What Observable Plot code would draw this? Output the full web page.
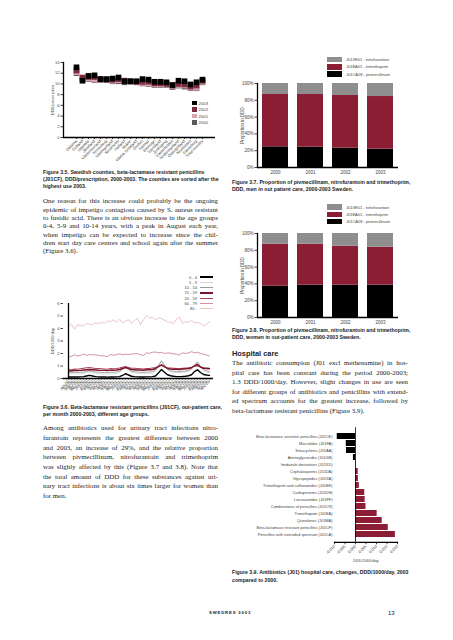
<!DOCTYPE html>
<html><head><meta charset="utf-8">
<script src="https://cdn.jsdelivr.net/npm/d3@7"></script>
<script src="https://cdn.jsdelivr.net/npm/@observablehq/plot@0.6"></script>
<style>
body{margin:0;background:#fff;}
#page{position:relative;width:453px;height:640px;overflow:hidden;background:#fff;}
.cap{font-family:"Liberation Sans",Arial,sans-serif;font-weight:bold;font-size:5.2px;color:#222;white-space:nowrap;}
.txt{font-family:"Liberation Serif","Times New Roman",serif;font-size:6.9px;color:#222;white-space:nowrap;text-align:justify;text-align-last:justify;}
.lg{font-family:"Liberation Sans",Arial,sans-serif;font-size:4px;color:#444;white-space:nowrap;line-height:5px;}
.hd{font-family:"Liberation Sans",Arial,sans-serif;font-weight:bold;font-size:7.4px;color:#222;white-space:nowrap;}
</style></head>
<body><div id="page"></div>
<script>
// ---------- DATA ----------
const counties = ["Dalarna","Gotland","Uppsala","Jämtland","Västernorrland","Kronoberg","Västmanland","Stockholm","Halland","Skåne","Västra Götaland","Örebro","Kalmar","Blekinge","Värmland","Jönköping","Västerbotten","Södermanland","Östergötland","Norrbotten","Gävleborg","Total country"];
const use2000 = [12.0,10.8,10.9,10.7,10.7,10.7,10.5,10.5,10.3,10.4,10.3,10.1,10.0,9.8,9.8,9.8,9.4,9.7,9.5,9.2,9.2,10.3];
const use2001 = [12.2,11.0,11.0,10.8,10.8,10.8,10.6,10.7,10.5,10.4,10.4,10.2,10.1,9.9,9.9,9.9,9.5,9.8,9.7,9.3,9.3,10.4];
const use2002 = [12.5,11.2,11.3,11.3,10.9,10.8,10.8,10.9,10.6,10.5,10.4,10.4,10.4,10.1,10.1,10.0,9.7,10.0,9.9,9.5,9.7,10.6];
const use2003 = [13.1,10.6,11.5,11.6,10.9,10.9,11.0,11.2,10.5,10.5,10.5,10.9,10.8,10.4,10.4,10.3,9.8,10.6,10.5,9.9,10.3,10.8];
const useYears = ["2000","2001","2002","2003"];
const useColors = ["#5a5a5a","#d9a5b0","#7b2b3b","#000000"];

const months = ["jan-00","feb-00","mar-00","apr-00","may-00","jun-00","jul-00","aug-00","sep-00","oct-00","nov-00","dec-00",
"jan-01","feb-01","mar-01","apr-01","may-01","jun-01","jul-01","aug-01","sep-01","oct-01","nov-01","dec-01",
"jan-02","feb-02","mar-02","apr-02","may-02","jun-02","jul-02","aug-02","sep-02","oct-02","nov-02","dec-02",
"jan-03","feb-03","mar-03","apr-03","may-03","jun-03","jul-03","aug-03","sep-03","oct-03","nov-03","dec-03"];
const age0_4 = [0.12,0.12,0.13,0.12,0.13,0.15,0.20,0.25,0.20,0.15,0.13,0.12, 0.12,0.11,0.12,0.12,0.13,0.15,0.25,0.38,0.28,0.18,0.15,0.13, 0.12,0.12,0.13,0.13,0.15,0.20,0.45,0.72,0.50,0.30,0.22,0.18, 0.15,0.15,0.16,0.18,0.22,0.30,0.55,0.70,0.48,0.32,0.28,0.25];
const age5_9 = [0.35,0.35,0.38,0.36,0.38,0.42,0.48,0.55,0.48,0.40,0.38,0.36, 0.36,0.35,0.38,0.38,0.40,0.48,0.70,0.88,0.68,0.50,0.45,0.42, 0.40,0.40,0.42,0.42,0.45,0.60,1.05,1.45,1.05,0.70,0.55,0.50, 0.48,0.48,0.50,0.52,0.58,0.72,1.10,1.35,0.95,0.65,0.55,0.50];
const age10_14 = [0.48,0.47,0.50,0.48,0.50,0.52,0.58,0.62,0.56,0.52,0.50,0.48, 0.48,0.47,0.50,0.50,0.52,0.58,0.75,0.92,0.75,0.58,0.55,0.52, 0.50,0.50,0.52,0.52,0.55,0.68,1.05,1.40,1.05,0.75,0.62,0.58, 0.56,0.55,0.58,0.60,0.65,0.78,1.08,1.30,0.95,0.70,0.62,0.55];
const age15_19 = [0.62,0.60,0.65,0.63,0.65,0.68,0.70,0.72,0.70,0.68,0.66,0.65, 0.65,0.63,0.67,0.66,0.68,0.72,0.80,0.88,0.80,0.72,0.70,0.68, 0.68,0.66,0.70,0.70,0.72,0.80,0.95,1.10,0.95,0.80,0.76,0.74, 0.74,0.72,0.76,0.78,0.80,0.86,1.00,1.12,0.92,0.82,0.80,0.78];
const age20_59 = [0.72,0.70,0.76,0.74,0.78,0.82,0.86,0.88,0.84,0.80,0.80,0.78, 0.76,0.74,0.80,0.78,0.80,0.84,0.90,0.95,0.88,0.82,0.82,0.80, 0.78,0.76,0.80,0.80,0.84,0.88,0.98,1.05,0.92,0.86,0.84,0.82, 0.80,0.78,0.82,0.84,0.86,0.90,0.98,1.02,0.90,0.86,0.84,0.82];
const age60_79 = [1.72,1.78,1.90,1.80,1.85,1.95,1.85,1.92,1.88,1.90,1.85,1.82, 1.80,1.75,1.92,1.85,1.90,1.98,1.90,1.95,1.92,1.95,1.98,2.00, 1.90,1.85,2.05,2.02,2.10,2.12,2.05,2.10,2.00,2.05,2.02,1.98, 1.95,1.88,2.05,2.00,2.05,2.15,2.05,2.10,2.00,1.95,1.88,1.80];
const age80 = [4.15,4.35,3.95,4.30,4.25,4.20,4.40,4.35,4.30,4.45,4.40,4.50, 4.40,4.60,4.55,4.70,4.50,4.75,4.45,4.60,4.70,4.40,4.65,4.80, 4.30,4.70,5.05,4.85,4.90,4.70,4.85,4.80,4.65,4.55,4.50,4.40, 4.75,4.90,4.40,4.55,4.50,4.65,4.45,4.50,4.40,4.20,4.35,4.55];
const ageGroups = ["0 - 4","5 - 9","10 - 14","15 - 19","20 - 59","60 - 79","80 -"];
const ageColors = ["#000000","#d4d4d4","#9a9a9a","#7a1428","#a8455a","#d4909c","#ebc3ca"];
const ageWidths = [1.4,0.9,0.9,1.4,1.1,1.0,1.0];

const drugNames = ["J01CA08 - pivmecillinam","J01EA01 - trimethoprim","J01XE01 - nitrofurantoin"];
const drugColors = ["#000000","#8b1e35","#8e8e8e"];
const drugYears = ["2000","2001","2002","2003"];
const menPiv = [24.6,24.2,23.0,21.8];
const menTri = [62.3,62.7,62.7,62.7];
const menNit = [13.1,13.1,14.3,15.5];
const womenPiv = [37.3,38.5,38.5,38.5];
const womenTri = [50.0,48.8,46.4,45.2];
const womenNit = [12.7,12.7,15.1,16.3];

const hospClasses = ["Beta-lactamase sensitive penicillins (J01CE)","Macrolides (J01FA)","Tetracyclines (J01AA)","Aminoglycosides (J01GB)","Imidazole derivatives (J01XD)","Cephalosporins (J01DA)","Glycopeptides (J01XA)","Trimethoprim and sulfonamides (J01EE)","Carbapenems (J01DH)","Lincosamides (J01FF)","Combinations of penicillins (J01CR)","Trimethoprim (J01EA)","Quinolones (J01MA)","Beta-lactamase resistant penicillins (J01CF)","Penicillins with extended spectrum (J01CA)"];
const hospChange = [-0.0087,-0.0044,-0.0043,-0.0010,0.0001,0.0013,0.0014,0.0018,0.0044,0.0046,0.0050,0.0103,0.0127,0.0156,0.0190];
const hospTicks = [-0.010,-0.005,0,0.005,0.010,0.015,0.020];

// ---------- TEXT ----------
const cap35 = ["Figure 3.5. Swedish counties, beta-lactamase resistant penicillins","(J01CF), DDD/prescription, 2000-2003. The counties are sorted after the","highest use 2003."];
const para1 = ["One reason for this increase could probably be the ongoing","epidemic of impetigo contagiosa caused by S. aureus resistant","to fusidic acid. There is an obvious increase in the age groups","0-4, 5-9 and 10-14 years, with a peak in August each year,","when impetigo can be expected to increase since the chil-","dren start day care centres and school again after the summer","(Figure 3.6)."];
const cap36 = ["Figure 3.6. Beta-lactamase resistant penicillins (J01CF), out-patient care,","per month 2000-2003, different age groups."];
const para2 = ["Among antibiotics used for urinary tract infections nitro-","furantoin represents the greatest difference between 2000","and 2003, an increase of 29%, and the relative proportion","between pivmecillinam, nitrofurantoin and trimethoprim","was slighly affected by this (Figure 3.7 and 3.8). Note that","the total amount of DDD for these substances against uri-","nary tract infections is about six times larger for women than","for men."];
const cap37 = ["Figure 3.7. Proportion of pivmecillinam, nitrofurantoin and trimethoprim,","DDD, men in out patient care, 2000-2003 Sweden."];
const cap38 = ["Figure 3.8. Proportion of pivmecillinam, nitrofurantoin and trimethoprim,","DDD, women in out-patient care, 2000-2003 Sweden."];
const para3 = ["The antibiotic consumpion (J01 excl methenamine) in hos-","pital care has been constant during the period 2000-2003;","1.3 DDD/1000/day. However, slight changes in use are seen","for different groups of antibiotics and penicillins with extend-","ed spectrum accounts for the greatest increase, followed by","beta-lactamase resistant penicillins (Figure 3.9)."];
const cap39 = ["Figure 3.9. Antibiotics (J01) hospital care, changes, DDD/1000/day, 2003","compared to 2000."];

// ---------- HELPERS ----------
const page = document.getElementById("page");
function place(el, x, y){ el.style.position="absolute"; el.style.left=x+"px"; el.style.top=y+"px"; page.appendChild(el); return el; }
function textLines(arr, x, yc0, dy, w, cls, justify){
  arr.forEach((t,i)=>{
    const d=document.createElement("div"); d.className=cls; d.textContent=t;
    d.style.lineHeight=dy+"px"; d.style.height=dy+"px";
    place(d, x, yc0 + i*dy - dy/2);
    if(justify){
      const nat = d.getBoundingClientRect().width;
      d.style.width = w+"px";
      if(i===arr.length-1) d.style.textAlignLast="left";
      if(nat > w){ const fs=parseFloat(getComputedStyle(d).fontSize); d.style.fontSize=(fs*w/nat*0.995)+"px"; }
    }
  });
}
const chartStyle = {fontFamily:"Liberation Sans, Arial, sans-serif", fontSize:"4.5px", color:"#444", background:"none", overflow:"visible"};
function addPlot(svg, x, y){ const d=document.createElement("div"); d.appendChild(svg); place(d,x,y); }

// ---------- FIG 3.5 ----------
const countyRows = [use2000,use2001,use2002,use2003].flatMap((arr,i)=>counties.map((c,j)=>({county:c, year:useYears[i], value:arr[j]})));
addPlot(Plot.plot({
  width:185, height:110, marginLeft:23, marginTop:7, marginBottom:28, marginRight:10,
  style:{...chartStyle, fontSize:"4px"},
  x:{type:"point", domain:counties, padding:0.55, tickRotate:-45, tickSize:2, tickPadding:1, label:null},
  y:{domain:[0,14], ticks:[0,2,4,6,8,10,12,14], tickFormat:d=>String(d), tickSize:2.5, tickPadding:1.5, label:"DDD/prescription", labelAnchor:"center", labelArrow:"none", labelOffset:12},
  color:{domain:useYears, range:useColors},
  marks:[
    Plot.dot(countyRows,{x:"county", y:"value", fill:"year", symbol:"square", r:3.2}),
    Plot.frame({anchor:"left", stroke:"black", strokeWidth:1.3}),
    Plot.ruleY([0],{stroke:"black", strokeWidth:1.5})
  ]
}), 40, 55);
[3,2,1,0].forEach((k,i)=>{
  const sw=document.createElement("div"); sw.style.width="4.5px"; sw.style.height="4.5px"; sw.style.background=useColors[k];
  place(sw, 192, 103+i*6.5-2.25);
  const l=document.createElement("div"); l.className="lg"; l.textContent=useYears[k]; l.style.fontSize="4.3px";
  place(l, 198.5, 103+i*6.5-2.5);
});
textLines(cap35, 43, 172, 7, 175, "cap", false);
textLines(para1, 43, 201.5, 8.3, 175, "txt", true);

// ---------- FIG 3.6 ----------
const ageSeries = [age0_4,age5_9,age10_14,age15_19,age20_59,age60_79,age80];
const lineMarks = [6,5,4,1,2,3,0].map(k=>Plot.line(months.map((m,j)=>({month:m, value:ageSeries[k][j], group:ageGroups[k]})),
  {x:"month", y:"value", stroke:"group", strokeWidth:ageWidths[k]}));
addPlot(Plot.plot({
  width:185, height:133, marginLeft:23, marginTop:33, marginBottom:25, marginRight:12,
  style:{...chartStyle, fontSize:"4px"},
  x:{type:"point", domain:months, padding:0, tickRotate:-45, tickSize:1.5, tickPadding:1, label:null},
  y:{domain:[0,6], ticks:[0,1,2,3,4,5,6], tickFormat:d=>String(d), tickSize:2.5, tickPadding:1.5, label:"DDD/1000/day", labelAnchor:"center", labelArrow:"none", labelOffset:12},
  color:{domain:ageGroups, range:ageColors},
  marks:[
    ...lineMarks,
    Plot.ruleX([months[0]],{stroke:"black", strokeWidth:1.3}),
    Plot.ruleY([0],{stroke:"black", strokeWidth:1.5})
  ]
}), 40, 270);
ageGroups.forEach((g,i)=>{
  const y=277+i*5.3;
  const l=document.createElement("div"); l.className="lg"; l.textContent=g; l.style.width="30px"; l.style.textAlign="right";
  place(l, 167, y-2.5);
  const sw=document.createElement("div"); sw.style.width="13px"; sw.style.height=ageWidths[i]+"px"; sw.style.background=ageColors[i];
  place(sw, 200, y-ageWidths[i]/2);
});
textLines(cap36, 43, 407, 7, 175, "cap", false);
textLines(para2, 43, 428, 9.7, 175, "txt", true);

// ---------- FIG 3.7 / 3.8 ----------
function drugPlot(piv, tri, nit, x, y){
  const rows = [piv,tri,nit].flatMap((arr,i)=>drugYears.map((yr,j)=>({year:yr, drug:drugNames[i], value:arr[j]})));
  addPlot(Plot.plot({
    width:178, height:129, marginLeft:32, marginTop:33, marginBottom:12, marginRight:5,
    style:chartStyle,
    x:{type:"band", domain:drugYears, paddingInner:0.27, paddingOuter:0.11, tickSize:0, tickPadding:3, label:null},
    y:{domain:[0,100], ticks:[0,20,40,60,80,100], tickFormat:d=>d+"%", tickSize:2.5, tickPadding:1.5, label:"Proportion in DDD", labelAnchor:"center", labelArrow:"none", labelOffset:17},
    color:{domain:drugNames, range:drugColors},
    marks:[
      Plot.barY(rows,{x:"year", y:"value", fill:"drug"}),
      Plot.frame({anchor:"left", stroke:"black", strokeWidth:1.3}),
      Plot.ruleY([0],{stroke:"black", strokeWidth:1.5})
    ]
  }), x, y);
}
function drugLegend(y0){
  [2,1,0].forEach((k,i)=>{
    const y=y0+i*7.3;
    const sw=document.createElement("div"); sw.style.width="15px"; sw.style.height="5.5px"; sw.style.background=drugColors[k];
    place(sw, 327, y-2.75);
    const l=document.createElement("div"); l.className="lg"; l.textContent=drugNames[k];
    place(l, 346, y-2.5);
  });
}
drugPlot(menPiv, menTri, menNit, 225, 50);
drugLegend(59.5);
textLines(cap37, 232, 182, 7, 176, "cap", false);
drugPlot(womenPiv, womenTri, womenNit, 225, 200);
drugLegend(207);
textLines(cap38, 232, 330, 7, 176, "cap", false);

// ---------- HOSPITAL CARE ----------
const hd=document.createElement("div"); hd.className="hd"; hd.textContent="Hospital care"; hd.style.lineHeight="9px";
place(hd, 232, 353-4.5);
textLines(para3, 232, 363, 9.5, 176, "txt", true);

// ---------- FIG 3.9 ----------
const hospRows = hospClasses.map((c,i)=>({cls:c, value:hospChange[i]}));
addPlot(Plot.plot({
  width:192, height:150, marginLeft:109, marginTop:7.2, marginBottom:28.2, marginRight:20,
  style:{...chartStyle, fontSize:"3.9px"},
  x:{domain:[-0.010,0.020], ticks:hospTicks, tickFormat:d=>d3.format(".3f")(d).replace(".",",").replace("\u2212","-"), tickRotate:-45, tickSize:2.5, tickPadding:1, label:"DDD/1000/day", labelAnchor:"center", labelArrow:"none", labelOffset:20},
  y:{type:"band", domain:hospClasses, paddingInner:0.2, paddingOuter:0.1, tickSize:0, tickPadding:2, label:null},
  marks:[
    Plot.barX(hospRows,{x:"value", y:"cls", fill:d=>d.value<0?"#000000":"#8b1e35"}),
    Plot.ruleX([0],{stroke:"black", strokeWidth:0.8}),
    Plot.frame({anchor:"bottom", stroke:"black", strokeWidth:1.2})
  ]
}), 225, 420);
textLines(cap39, 232, 573, 7.5, 176, "cap", false);

// ---------- FOOTER ----------
const ft=document.createElement("div"); ft.className="cap"; ft.textContent="SWEDRES 2003"; ft.style.fontSize="4.3px"; ft.style.letterSpacing="0.8px"; ft.style.lineHeight="6px";
place(ft, 209, 610);
const pn=document.createElement("div"); pn.className="cap"; pn.textContent="13"; pn.style.fontSize="6px"; pn.style.fontWeight="normal"; pn.style.lineHeight="8px";
place(pn, 388, 609);
</script></body></html>
